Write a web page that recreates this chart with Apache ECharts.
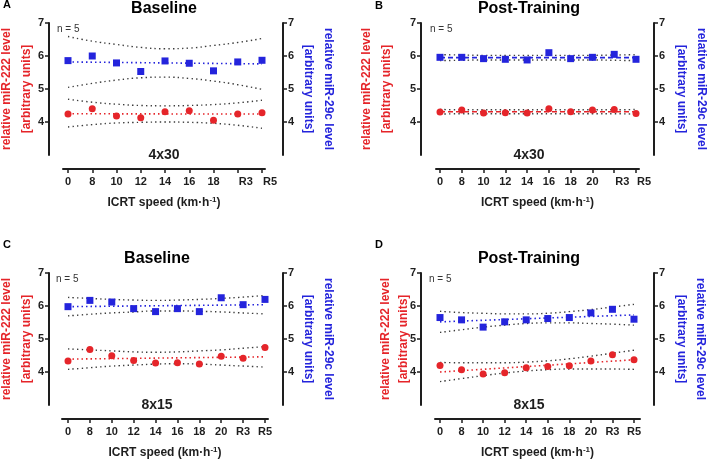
<!DOCTYPE html>
<html>
<head>
<meta charset="utf-8">
<script src="https://cdn.jsdelivr.net/npm/echarts@6/dist/echarts.min.js"></script>
<style>
  html, body { margin: 0; padding: 0; background: #fff; }
  #chart { width: 708px; height: 460px; }
</style>
</head>
<body>
<div id="chart"></div>
<script>
// ICRT speed categories (km/h) and recovery points
const speeds4x30Base = ['0', '8', '10', '12', '14', '16', '18', 'R3', 'R5']
const speeds4x30Post = ['0', '8', '10', '12', '14', '16', '18', '20', 'R3', 'R5']
const speeds8x15Base = ['0', '8', '10', '12', '14', '16', '18', '20', 'R3', 'R5']
const speeds8x15Post = ['0', '8', '10', '12', '14', '16', '18', '20', 'R3', 'R5']
const yTicks = [4, 5, 6, 7]

// A - Baseline 4x30
const mir222A = [4.24, 4.40, 4.18, 4.13, 4.31, 4.34, 4.05, 4.24, 4.28]
const mir29cA = [5.86, 6.00, 5.79, 5.53, 5.85, 5.78, 5.55, 5.82, 5.87]
const fit222A = [4.25, 4.24]
const fit29cA = [5.82, 5.76]
const hi222A = [4.69, 4.60, 4.54, 4.50, 4.49, 4.50, 4.53, 4.58, 4.66]
const lo222A = [3.85, 3.92, 3.97, 3.99, 4.00, 3.99, 3.96, 3.90, 3.81]
const hi29cA = [6.59, 6.45, 6.35, 6.26, 6.22, 6.24, 6.32, 6.41, 6.53]
const lo29cA = [5.05, 5.17, 5.27, 5.34, 5.36, 5.32, 5.24, 5.13, 4.99]

// B - Post-Training 4x30
const mir222B = [4.30, 4.36, 4.27, 4.28, 4.27, 4.40, 4.31, 4.36, 4.38, 4.26]
const mir29cB = [5.96, 5.96, 5.92, 5.90, 5.88, 6.10, 5.92, 5.96, 6.05, 5.90]
const fit222B = [4.31, 4.31]
const fit29cB = [5.95, 5.95]
const hi222B = [4.38, 4.37, 4.37, 4.37, 4.37, 4.37, 4.37, 4.37, 4.37, 4.38]
const lo222B = [4.24, 4.25, 4.25, 4.25, 4.25, 4.25, 4.25, 4.25, 4.25, 4.24]
const hi29cB = [6.04, 6.03, 6.02, 6.02, 6.02, 6.02, 6.02, 6.02, 6.03, 6.04]
const lo29cB = [5.86, 5.87, 5.88, 5.88, 5.88, 5.88, 5.88, 5.88, 5.87, 5.86]

// C - Baseline 8x15
const mir222C = [4.33, 4.68, 4.49, 4.35, 4.27, 4.28, 4.24, 4.48, 4.42, 4.74]
const mir29cC = [5.98, 6.17, 6.12, 5.92, 5.83, 5.92, 5.83, 6.25, 6.04, 6.20]
const fit222C = [4.39, 4.46]
const fit29cC = [5.98, 6.04]
const hi222C = [4.70, 4.67, 4.64, 4.61, 4.60, 4.61, 4.64, 4.67, 4.72, 4.77]
const lo222C = [4.08, 4.13, 4.18, 4.21, 4.24, 4.25, 4.24, 4.21, 4.18, 4.15]
const hi29cC = [6.26, 6.23, 6.20, 6.18, 6.17, 6.18, 6.20, 6.23, 6.27, 6.32]
const lo29cC = [5.70, 5.75, 5.79, 5.82, 5.85, 5.85, 5.84, 5.82, 5.79, 5.76]

// D - Post-Training 8x15
const mir222D = [4.20, 4.07, 3.94, 3.98, 4.13, 4.17, 4.19, 4.33, 4.52, 4.37]
const mir29cD = [5.65, 5.58, 5.36, 5.52, 5.58, 5.62, 5.65, 5.79, 5.90, 5.60]
const fit222D = [4.00, 4.37]
const fit29cD = [5.52, 5.73]
const hi222D = [4.29, 4.28, 4.28, 4.28, 4.30, 4.34, 4.40, 4.48, 4.57, 4.66]
const lo222D = [3.71, 3.80, 3.89, 3.97, 4.03, 4.07, 4.09, 4.09, 4.09, 4.08]
const hi29cD = [5.84, 5.80, 5.78, 5.76, 5.76, 5.78, 5.83, 5.89, 5.97, 6.05]
const lo29cD = [5.20, 5.28, 5.36, 5.42, 5.47, 5.49, 5.49, 5.47, 5.45, 5.42]

const font = '"Liberation Sans", Arial, sans-serif'
const red = '#e5252a'
const blue = '#2424dc'
const ink = '#1e1e1e'

const panels = [
  { letter: 'A', title: 'Baseline', protocol: '4x30', cats: speeds4x30Base,
    red: mir222A, blue: mir29cA, fitRed: fit222A, fitBlue: fit29cA,
    bands: [hi222A, lo222A, hi29cA, lo29cA], fitDash: [1.5, 3], shiftR: true,
    left: 63, width: 202, top: 23, padL: 5, padR: 3, offL: 14, offR: 18,
    gapL: 12, gapR: 15, lhL: 20, lhR: 20, titleX: 164, letterXY: [3, 5] },
  { letter: 'B', title: 'Post-Training', protocol: '4x30', cats: speeds4x30Post,
    red: mir222B, blue: mir29cB, fitRed: fit222B, fitBlue: fit29cB,
    bands: [hi222B, lo222B, hi29cB, lo29cB], fitDash: [5, 3], shiftR: true,
    left: 436, width: 203, top: 23, padL: 4, padR: 3, offL: 15, offR: 15,
    gapL: 24, gapR: 17, lhL: 20, lhR: 20, titleX: 529, letterXY: [375, 6] },
  { letter: 'C', title: 'Baseline', protocol: '8x15', cats: speeds8x15Base,
    red: mir222C, blue: mir29cC, fitRed: fit222C, fitBlue: fit29cC,
    bands: [hi222C, lo222C, hi29cC, lo29cC], fitDash: [1.5, 3], shiftR: false,
    left: 62, width: 206, top: 273, padL: 6, padR: 3, offL: 13, offR: 15,
    gapL: 12, gapR: 15, lhL: 20, lhR: 20, titleX: 157, letterXY: [3, 245] },
  { letter: 'D', title: 'Post-Training', protocol: '8x15', cats: speeds8x15Post,
    red: mir222D, blue: mir29cD, fitRed: fit222D, fitBlue: fit29cD,
    bands: [hi222D, lo222D, hi29cD, lo29cD], fitDash: [1.5, 3], shiftR: false,
    left: 435, width: 205, top: 273, padL: 5, padR: 6, offL: 14, offR: 14,
    gapL: 8, gapR: 18, lhL: 18, lhR: 19, titleX: 529, letterXY: [375, 245] }
]

const grid = []
const xAxis = []
const yAxis = []
const series = []
const graphic = []

const tickLabel = { fontFamily: font, fontWeight: 'bold', fontSize: 11, color: ink }

panels.forEach((p, i) => {
  const n = p.cats.length
  const idx = p.cats.map((c, k) => k)
  const unit = (p.width - p.padL - p.padR) / (n - 1)
  const plotH = 132

  grid.push({ left: p.left, top: p.top, width: p.width, height: plotH, outerBoundsMode: 'none' })

  xAxis.push({
    gridIndex: i,
    type: 'value',
    min: -p.padL / unit,
    max: n - 1 + p.padR / unit,
    offset: 14,
    splitLine: { show: false },
    axisLine: { onZero: false, lineStyle: { color: ink, width: 2 } },
    axisTick: { customValues: idx, length: 4, lineStyle: { color: ink, width: 1.5 } },
    axisLabel: Object.assign({
      customValues: idx,
      margin: 7,
      formatter: v => {
        const c = p.cats[Math.round(v)]
        // recovery labels sit a little right of their ticks in the 4x30 panels
        return p.shiftR && c.charAt(0) === 'R' ? '{r|' + c + '}' : c
      },
      rich: { r: { fontFamily: font, fontWeight: 'bold', fontSize: 11, color: ink, padding: [0, 0, 0, 16] } }
    }, tickLabel),
    name: 'ICRT speed (km·h{sup|-1})',
    nameLocation: 'middle',
    nameGap: 27,
    nameMoveOverlap: false,
    nameTextStyle: {
      fontFamily: font, fontWeight: 'bold', fontSize: 12, color: ink,
      rich: { sup: { fontFamily: font, fontWeight: 'bold', fontSize: 8, color: ink, padding: [0, 0, 6, 0] } }
    }
  })

  const yBase = {
    gridIndex: i,
    type: 'value',
    min: 3,
    max: 7,
    interval: 1,
    splitLine: { show: false },
    axisLine: { show: true, onZero: false, lineStyle: { color: ink, width: 2 } },
    axisTick: { show: true, customValues: yTicks, length: 4, lineStyle: { color: ink, width: 1.5 } },
    axisLabel: Object.assign({ customValues: yTicks, margin: 5 }, tickLabel),
    nameLocation: 'middle',
    nameMoveOverlap: false
  }
  yAxis.push(Object.assign({}, yBase, {
    position: 'left',
    offset: p.offL,
    name: 'relative miR-222 level\n[arbitrary units]',
    nameRotate: 90,
    nameGap: p.gapL,
    nameTextStyle: { fontFamily: font, fontWeight: 'bold', fontSize: 12, color: red, lineHeight: p.lhL }
  }))
  yAxis.push(Object.assign({}, yBase, {
    position: 'right',
    offset: p.offR,
    name: 'relative miR-29c level\n[arbitrary units]',
    nameRotate: -90,
    nameGap: p.gapR,
    nameTextStyle: { fontFamily: font, fontWeight: 'bold', fontSize: 12, color: blue, lineHeight: p.lhR }
  }))

  // confidence bands
  p.bands.forEach(b => {
    series.push({
      type: 'line', xAxisIndex: i, yAxisIndex: i * 2, smooth: true, symbol: 'none', silent: true,
      data: b.map((v, k) => [k, v]),
      lineStyle: { color: '#3c3c3c', width: 1.4, type: [1.4, 3.2] },
      z: 1
    })
  })

  // regression lines
  series.push({
    type: 'line', xAxisIndex: i, yAxisIndex: i * 2, symbol: 'none', silent: true,
    data: [[0, p.fitRed[0]], [n - 1, p.fitRed[1]]],
    lineStyle: { color: red, width: 1.6, type: p.fitDash },
    z: 2
  })
  series.push({
    type: 'line', xAxisIndex: i, yAxisIndex: i * 2 + 1, symbol: 'none', silent: true,
    data: [[0, p.fitBlue[0]], [n - 1, p.fitBlue[1]]],
    lineStyle: { color: blue, width: 1.6, type: p.fitDash },
    z: 2
  })

  // points
  series.push({
    type: 'scatter', name: 'miR-222', xAxisIndex: i, yAxisIndex: i * 2,
    symbol: 'circle', symbolSize: 7,
    data: p.red.map((v, k) => [k, v]),
    itemStyle: { color: red, opacity: 1 },
    z: 3
  })
  series.push({
    type: 'scatter', name: 'miR-29c', xAxisIndex: i, yAxisIndex: i * 2 + 1,
    symbol: 'rect', symbolSize: 7,
    data: p.blue.map((v, k) => [k, v]),
    itemStyle: { color: blue, opacity: 1 },
    z: 3
  })

  // texts
  graphic.push({
    type: 'text', x: p.letterXY[0], y: p.letterXY[1],
    style: { text: p.letter, font: 'bold 11px ' + font, fill: '#000', align: 'left', verticalAlign: 'middle' }
  })
  graphic.push({
    type: 'text', x: p.titleX, y: p.top - 14,
    style: { text: p.title, font: 'bold 16px ' + font, fill: '#000', align: 'center', verticalAlign: 'middle' }
  })
  graphic.push({
    type: 'text', x: p.left - 6, y: p.top + 6,
    style: { text: 'n = 5', font: '10px ' + font, fill: '#333', align: 'left', verticalAlign: 'middle' }
  })
  graphic.push({
    type: 'text', x: p.titleX, y: p.top + plotH,
    style: { text: p.protocol, font: 'bold 14px ' + font, fill: ink, align: 'center', verticalAlign: 'middle' }
  })
})

const chart = echarts.init(document.getElementById('chart'))
chart.setOption({
  animation: false,
  backgroundColor: '#fff',
  grid: grid,
  xAxis: xAxis,
  yAxis: yAxis,
  series: series,
  graphic: graphic
})
</script>
</body>
</html>
